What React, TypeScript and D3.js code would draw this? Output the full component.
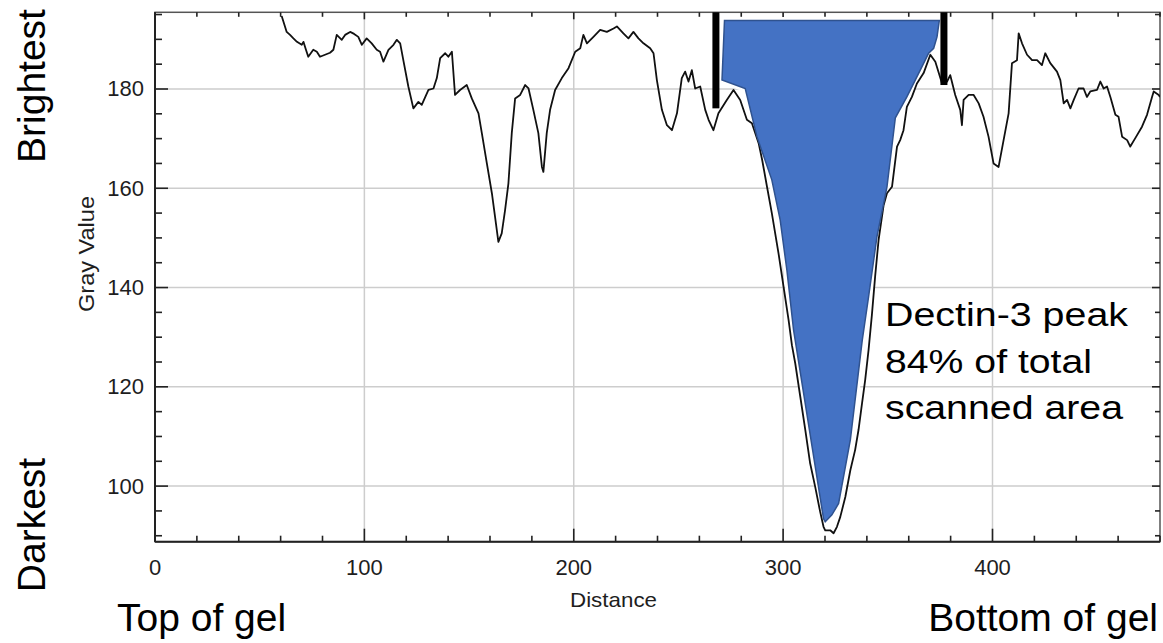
import React from "react";
import * as d3 from "d3";

// Lane profile: distance along the lane vs. gray value
const distance = [
  60.5, 62.9, 64.5, 66.1, 67.8, 70.1, 70.9, 72.1, 73.2, 75.6, 77.3, 78.8, 81.2, 83.6, 85.2, 86.8, 89.2, 90.8, 93.2, 95.1,
  97.1, 98.8, 101.1, 103.5, 105.9, 107.5, 109.1, 111.5, 113.9, 115.5, 117.1, 118.6, 121.0, 123.4, 125.8, 127.4, 130.6, 133.0, 134.6, 136.2,
  138.6, 140.1, 141.8, 143.3, 145.7, 148.9, 151.3, 154.5, 156.1, 158.5, 160.9, 162.4, 164.0, 165.6, 167.2, 168.8, 170.4, 172.0, 174.4, 176.8,
  178.4, 180.7, 183.1, 184.8, 185.5, 187.1, 188.7, 191.1, 194.3, 197.5, 200.7, 203.1, 204.6, 206.3, 209.4, 212.6, 215.8, 219.0, 220.6, 223.7,
  226.1, 228.5, 230.9, 233.3, 236.5, 238.1, 239.7, 242.1, 244.5, 246.9, 249.3, 251.6, 253.2, 254.8, 256.4, 258.0, 260.4, 262.8, 264.4, 266.7,
  269.1, 273.1, 276.3, 279.5, 282.7, 285.1, 288.3, 290.0, 292.3, 294.6, 297.8, 300.2, 302.6, 304.2, 305.8, 308.2, 310.6, 312.9, 315.3, 317.7,
  319.3, 320.1, 322.5, 324.1, 325.7, 327.3, 329.7, 332.1, 334.4, 336.0, 337.7, 339.2, 340.8, 342.4, 344.0, 345.6, 348.0, 349.6, 352.0, 354.4,
  355.9, 357.5, 359.1, 361.5, 363.9, 367.1, 370.3, 372.7, 375.9, 378.3, 379.8, 382.2, 384.6, 385.4, 386.2, 388.6, 391.0, 393.4, 395.7, 398.1,
  400.5, 402.9, 405.3, 407.7, 409.3, 411.7, 412.5, 414.1, 416.5, 418.9, 421.3, 423.6, 425.2, 427.6, 430.8, 432.4, 434.0, 435.6, 437.2, 438.8,
  441.1, 443.5, 445.1, 446.7, 449.9, 451.5, 453.1, 454.7, 456.3, 458.7, 460.2, 461.9, 464.3, 465.8, 468.2, 471.4, 473.8, 476.2, 477.0, 479.4,
  480.0,
];
const grayValue = [
  194.7, 191.5, 190.9, 190.2, 189.5, 188.9, 189.5, 187.9, 186.5, 187.9, 187.5, 186.5, 186.9, 187.3, 187.9, 190.9, 189.9, 190.9, 191.5, 191.1,
  190.5, 188.9, 190.2, 189.2, 187.9, 187.5, 185.5, 187.9, 188.9, 189.9, 189.2, 185.8, 180.5, 176.1, 177.4, 176.8, 179.8, 180.1, 182.2, 186.2,
  187.2, 186.5, 187.5, 178.8, 179.8, 180.8, 178.1, 175.1, 171.1, 165.0, 159.0, 154.3, 149.2, 150.9, 155.6, 161.0, 171.1, 178.1, 178.8, 180.8,
  180.1, 175.8, 171.1, 164.3, 163.3, 171.1, 175.8, 179.8, 182.2, 184.2, 187.5, 188.2, 190.9, 189.2, 190.5, 191.9, 191.5, 192.2, 192.6, 191.2,
  190.2, 191.5, 190.2, 189.2, 188.2, 187.2, 181.8, 175.8, 172.7, 171.7, 175.1, 182.2, 183.5, 181.5, 183.8, 180.1, 180.5, 175.8, 173.8, 171.7,
  175.1, 177.8, 179.8, 177.8, 173.8, 173.1, 169.1, 165.7, 160.3, 155.0, 146.9, 140.2, 133.5, 128.4, 124.7, 118.0, 111.3, 104.6, 99.9, 94.8,
  91.8, 91.1, 91.1, 90.5, 91.8, 93.8, 97.8, 103.2, 107.3, 111.3, 116.7, 121.4, 127.4, 134.5, 142.5, 149.6, 156.6, 159.0, 160.3, 168.4,
  169.7, 171.7, 176.4, 178.4, 181.1, 183.2, 186.9, 185.5, 181.1, 181.5, 182.8, 178.8, 175.8, 172.7, 177.8, 178.8, 178.8, 177.1, 174.4, 170.4,
  165.0, 164.3, 169.7, 175.1, 185.2, 185.8, 191.2, 189.2, 186.9, 185.8, 185.8, 184.8, 187.2, 185.2, 183.5, 181.8, 177.1, 177.8, 176.1, 177.8,
  180.1, 180.1, 178.4, 179.5, 179.8, 181.5, 180.1, 180.5, 178.4, 174.8, 174.4, 170.4, 169.7, 168.4, 170.1, 172.4, 174.8, 178.4, 179.5, 178.8,
  178.4,
];

// Highlighted Dectin-3 peak region (outline in data units)
const peakDistance = [
  272.0, 374.6, 373.5, 371.9, 369.5, 365.5, 359.1, 353.6, 349.6, 344.8, 340.8, 337.8, 332.1, 326.5, 323.3, 320.1,
  319.3, 305.0, 301.8, 298.6, 294.6, 287.5, 281.9, 270.8,
];
const peakGray = [
  193.8, 193.8, 190.5, 188.2, 187.2, 183.8, 178.4, 174.2, 160.3, 150.2, 138.1, 129.4, 109.3, 96.5, 94.2, 92.8,
  93.4, 131.4, 143.5, 153.6, 161.7, 170.4, 180.1, 181.8,
];

// Peak boundary markers
const markerDistance = [267.9, 376.8];
const markerGray = [176.1, 180.8];

const xTicks = [0, 100, 200, 300, 400];
const yTicks = [100, 120, 140, 160, 180];
const noteLines = ["Dectin-3 peak", "84% of total", "scanned area"];
const noteWidths = [243, 207, 238];

const W = 1163;
const H = 643;
const LEFT = 155;
const RIGHT = 1160;
const TOP = 12.3;
const BOTTOM = 541.7;
const FONT = "'Liberation Sans', Arial, Helvetica, sans-serif";

export default function App() {
  const x = d3.scaleLinear().domain([0, 480]).range([LEFT, RIGHT]);
  const y = d3.scaleLinear().domain([88.8, 195.45]).range([BOTTOM, TOP]);

  const line = d3
    .line<[number, number]>()
    .x((p) => x(p[0]))
    .y((p) => y(p[1]));

  const tracePath = line(distance.map((d, i) => [d, grayValue[i]] as [number, number])) || "";
  const peakPath =
    (line(peakDistance.map((d, i) => [d, peakGray[i]] as [number, number])) || "") + "Z";

  const xMinor = d3.range(20, 481, 20).filter((v) => v % 100 !== 0);
  const yMinor = d3.range(90, 196, 5).filter((v) => v % 20 !== 0);

  return (
    <svg
      width={W}
      height={H}
      viewBox={`0 0 ${W} ${H}`}
      style={{ position: "absolute", left: 0, top: 0, background: "#fff" }}
    >
      <defs>
        <clipPath id="plot-area">
          <rect x={LEFT} y={TOP} width={RIGHT - LEFT} height={BOTTOM - TOP} />
        </clipPath>
      </defs>
      <rect width={W} height={H} fill="#fff" />

      {/* grid */}
      <g stroke="#cdcdcd" strokeWidth={1.5}>
        {xTicks
          .filter((t) => t > 0)
          .map((t) => (
            <line key={"gx" + t} x1={x(t)} x2={x(t)} y1={TOP} y2={BOTTOM} />
          ))}
        {yTicks.map((t) => (
          <line key={"gy" + t} x1={LEFT} x2={RIGHT} y1={y(t)} y2={y(t)} />
        ))}
      </g>

      {/* frame */}
      <rect
        x={LEFT}
        y={TOP}
        width={RIGHT - LEFT}
        height={BOTTOM - TOP}
        fill="none"
        stroke="#555"
        strokeWidth={1.5}
      />

      {/* ticks (inward) */}
      <g stroke="#222" strokeWidth={1.6}>
        {xTicks.map((t) => (
          <g key={"xt" + t}>
            <line x1={x(t)} x2={x(t)} y1={BOTTOM} y2={BOTTOM - 13} />
            <line x1={x(t)} x2={x(t)} y1={TOP} y2={TOP + 7} />
          </g>
        ))}
        {xMinor.map((t) => (
          <g key={"xm" + t}>
            <line x1={x(t)} x2={x(t)} y1={BOTTOM} y2={BOTTOM - 6} />
            <line x1={x(t)} x2={x(t)} y1={TOP} y2={TOP + 4.5} />
          </g>
        ))}
        {yTicks.map((t) => (
          <g key={"yt" + t}>
            <line x1={LEFT} x2={LEFT + 13} y1={y(t)} y2={y(t)} />
            <line x1={RIGHT} x2={RIGHT - 8} y1={y(t)} y2={y(t)} />
          </g>
        ))}
        {yMinor.map((t) => (
          <g key={"ym" + t}>
            <line x1={LEFT} x2={LEFT + 7} y1={y(t)} y2={y(t)} />
            <line x1={RIGHT} x2={RIGHT - 5} y1={y(t)} y2={y(t)} />
          </g>
        ))}
      </g>

      {/* main axes */}
      <line x1={LEFT} x2={LEFT} y1={TOP} y2={BOTTOM} stroke="#222" strokeWidth={2} />
      <line x1={LEFT} x2={RIGHT} y1={BOTTOM} y2={BOTTOM} stroke="#222" strokeWidth={2} />

      {/* tick labels */}
      <g fontFamily={FONT} fontSize={22} fill="#1e1e1e">
        {xTicks.map((t) => (
          <text key={"xl" + t} x={x(t)} y={575} textAnchor="middle">
            {t}
          </text>
        ))}
        {yTicks.map((t) => (
          <text key={"yl" + t} x={144} y={y(t)} textAnchor="end" dominantBaseline="central">
            {t}
          </text>
        ))}
      </g>

      {/* axis titles */}
      <text
        x={613.5}
        y={607}
        textAnchor="middle"
        fontFamily={FONT}
        fontSize={21}
        fill="#1e1e1e"
        textLength={87}
        lengthAdjust="spacingAndGlyphs"
      >
        Distance
      </text>
      <text
        transform={`translate(94,254) rotate(-90)`}
        textAnchor="middle"
        fontFamily={FONT}
        fontSize={22}
        fill="#1e1e1e"
        textLength={116}
        lengthAdjust="spacingAndGlyphs"
      >
        Gray Value
      </text>

      {/* peak highlight with white halo */}
      <g clipPath="url(#plot-area)">
        <path d={peakPath} fill="#fff" stroke="#fff" strokeWidth={7} strokeLinejoin="round" />
        <path d={tracePath} fill="none" stroke="#111" strokeWidth={1.8} strokeLinejoin="round" />
        <path d={peakPath} fill="#4472C4" stroke="#2F528F" strokeWidth={1.5} strokeLinejoin="miter" />
      </g>

      {/* boundary markers */}
      {markerDistance.map((d, i) => (
        <rect
          key={"mk" + i}
          x={x(d) - 3.5}
          y={TOP}
          width={7}
          height={y(markerGray[i]) - TOP}
          fill="#000"
        />
      ))}

      {/* peak annotation */}
      <g fontFamily={FONT} fontSize={34} fill="#000">
        {noteLines.map((s, i) => (
          <text
            key={s}
            x={885}
            y={326 + i * 46.5}
            textLength={noteWidths[i]}
            lengthAdjust="spacingAndGlyphs"
          >
            {s}
          </text>
        ))}
      </g>

      {/* brightness and gel orientation labels */}
      <g fontFamily={FONT} fontSize={39} fill="#000">
        <text transform="translate(45,86) rotate(-90)" textAnchor="middle">
          Brightest
        </text>
        <text transform="translate(45,525) rotate(-90)" textAnchor="middle">
          Darkest
        </text>
        <text x={117} y={631}>
          Top of gel
        </text>
        <text x={1158} y={631} textAnchor="end">
          Bottom of gel
        </text>
      </g>
    </svg>
  );
}
